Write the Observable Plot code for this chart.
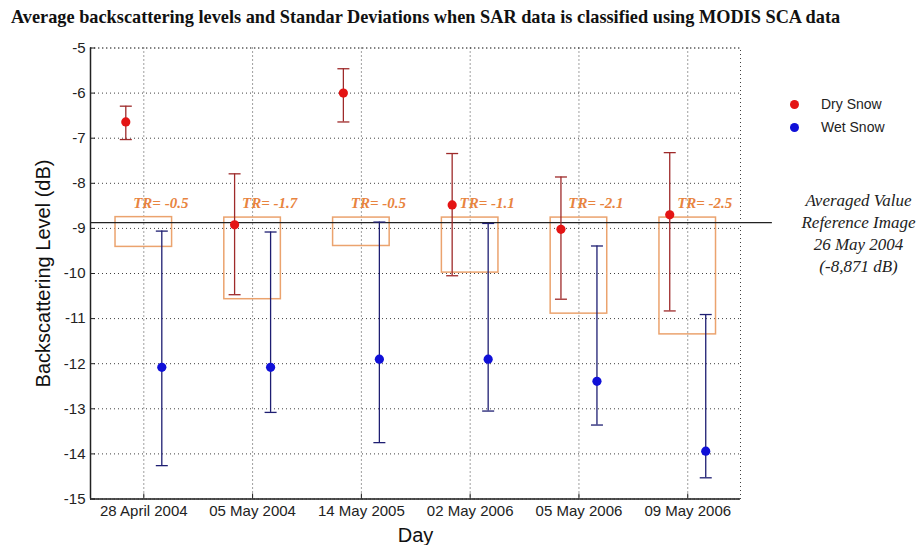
<!DOCTYPE html>
<html>
<head>
<meta charset="utf-8">
<script src="https://cdn.jsdelivr.net/npm/d3@7"></script>
<script src="https://cdn.jsdelivr.net/npm/@observablehq/plot@0.6"></script>
<style>
  html, body { margin: 0; padding: 0; background: #fff; }
  #wrap { position: relative; width: 924px; height: 545px; overflow: hidden; }
  #title { height: 32px; padding-left: 11px; box-sizing: border-box; font-family: "Liberation Serif", "Times New Roman", serif; font-weight: bold; font-size: 18.3px; line-height: 34px; color: #111; white-space: nowrap; }
  .leg { position: absolute; left: 790px; font-family: "Liberation Sans", Arial, sans-serif; font-size: 14px; color: #222; display: flex; align-items: center; }
  .leg span.dot { display: inline-block; width: 9px; height: 9px; border-radius: 50%; margin-right: 22px; }
</style>
</head>
<body>
<div id="wrap">
  <div id="title">Average backscattering levels and Standar Deviations when SAR data is classified using MODIS SCA data</div>
  <div id="chart"></div>
  <div class="leg" style="top:96px"><span class="dot" style="background:#e41414"></span>Dry Snow</div>
  <div class="leg" style="top:119px"><span class="dot" style="background:#1010d8"></span>Wet Snow</div>
</div>
<script>
// ---- data ----
const days = ["28 April 2004", "05 May 2004", "14 May 2005", "02 May 2006", "05 May 2006", "09 May 2006"];
const dryMean  = [-6.64, -8.92, -6.00, -8.48, -9.02, -8.70];
const dryUpper = [-6.29, -7.79, -5.46, -7.34, -7.86, -7.32];
const dryLower = [-7.03, -10.47, -6.64, -10.05, -10.57, -10.83];
const wetMean  = [-12.08, -12.08, -11.90, -11.90, -12.39, -13.94];
const wetUpper = [-9.06, -9.08, -8.86, -8.89, -9.39, -10.91];
const wetLower = [-14.26, -13.08, -13.75, -13.05, -13.36, -14.53];
const trLabels = ["TR= -0.5", "TR= -1.7", "TR= -0.5", "TR= -1.1", "TR= -2.1", "TR= -2.5"];
const trBoxTop    = [-8.75, -8.76, -8.76, -8.76, -8.76, -8.76];
const trBoxBottom = [-9.41, -10.57, -9.39, -9.98, -10.89, -11.35];
const trLabelY = -8.43;
const referenceValue = -8.871;
const referenceText = "Averaged Value\nReference Image\n26 May 2004\n(-8,871 dB)";
const yTicks = [-5, -6, -7, -8, -9, -10, -11, -12, -13, -14, -15];

// ---- derived tables ----
const xPos = days.map((d, i) => i + 1);
const dry = days.map((d, i) => ({x: xPos[i], mean: dryMean[i], hi: dryUpper[i], lo: dryLower[i]}));
const wet = days.map((d, i) => ({x: xPos[i], mean: wetMean[i], hi: wetUpper[i], lo: wetLower[i]}));
const boxes = days.map((d, i) => ({x: xPos[i], top: trBoxTop[i], bottom: trBoxBottom[i], label: trLabels[i]}));

const xDomain = [0.51, 6.485];
const yDomain = [-15, -5];
const boxHalf = 0.26;
const refLineEnd = 6.778;
const OFF = 18;

const capSymbol = {
  draw(context, size) {
    const w = Math.sqrt(size / Math.PI);
    context.moveTo(-w, 0);
    context.lineTo(w, 0);
  }
};

const dryBar = "#9e2a2a", wetBar = "#1e1e72", dryDot = "#e41414", wetDot = "#1010d8";
const boxColor = "#eba36e", trColor = "#e8843f";
const gridStyle = {stroke: "#000", strokeOpacity: 0.75, strokeDasharray: "1,3", strokeWidth: 1};

const chart = Plot.plot({
  width: 924,
  height: 513,
  marginLeft: 90,
  marginRight: 184,
  marginTop: 15.5,
  marginBottom: 46.5,
  style: {fontFamily: "'Liberation Sans', Arial, sans-serif", fontSize: "15px", color: "#222", background: "#fff"},
  x: {domain: xDomain, axis: null},
  y: {domain: yDomain, axis: null},
  marks: [
    Plot.frame({...gridStyle}),
    Plot.ruleY(yTicks, {y: d => d, ...gridStyle}),
    Plot.ruleX(xPos, {x: d => d, ...gridStyle}),
    Plot.axisX(xPos, {anchor: "bottom", label: null, tickFormat: d => days[d - 1], tickSize: -5, tickPadding: 11, fontSize: 15, stroke: "#222"}),
    Plot.axisY(yTicks, {anchor: "left", label: null, tickFormat: d => String(d), tickSize: -5, tickPadding: 10, fontSize: 15}),
    Plot.ruleY([yDomain[0]], {stroke: "#222", strokeWidth: 1.5}),
    Plot.ruleX([xDomain[0]], {stroke: "#222", strokeWidth: 1.5}),
    // TR boxes
    Plot.rect(boxes, {x1: d => d.x - boxHalf, x2: d => d.x + boxHalf, y1: "top", y2: "bottom", fill: "none", stroke: boxColor, strokeWidth: 1.5}),
    // reference line
    Plot.ruleY([referenceValue], {x1: xDomain[0], x2: refLineEnd, stroke: "#222", strokeWidth: 1.3}),
    // error bars
    Plot.ruleX(dry, {x: "x", y1: "lo", y2: "hi", dx: -OFF, stroke: dryBar, strokeWidth: 1.3}),
    Plot.dot(dry, {x: "x", y: "hi", dx: -OFF, symbol: capSymbol, r: 6, stroke: dryBar, strokeWidth: 1.3, fill: "none"}),
    Plot.dot(dry, {x: "x", y: "lo", dx: -OFF, symbol: capSymbol, r: 6, stroke: dryBar, strokeWidth: 1.3, fill: "none"}),
    Plot.ruleX(wet, {x: "x", y1: "lo", y2: "hi", dx: OFF, stroke: wetBar, strokeWidth: 1.3}),
    Plot.dot(wet, {x: "x", y: "hi", dx: OFF, symbol: capSymbol, r: 6, stroke: wetBar, strokeWidth: 1.3, fill: "none"}),
    Plot.dot(wet, {x: "x", y: "lo", dx: OFF, symbol: capSymbol, r: 6, stroke: wetBar, strokeWidth: 1.3, fill: "none"}),
    // means
    Plot.dot(dry, {x: "x", y: "mean", dx: -OFF, r: 4.6, fill: dryDot, stroke: "none"}),
    Plot.dot(wet, {x: "x", y: "mean", dx: OFF, r: 4.6, fill: wetDot, stroke: "none"}),
    // TR labels
    Plot.text(boxes, {x: "x", y: () => trLabelY, text: "label", dx: 17, fill: trColor, fontSize: 15, fontWeight: "bold", fontStyle: "italic", fontFamily: "'Liberation Serif', 'Times New Roman', serif"}),
    // reference annotation
    Plot.text([referenceText], {y: () => referenceValue, text: d => d, frameAnchor: "right", dx: 118, dy: 9.5, textAnchor: "middle", lineAnchor: "middle", lineHeight: 1.3, fontSize: 17, fontStyle: "italic", fontFamily: "'Liberation Serif', 'Times New Roman', serif", fill: "#222"}),
    // axis titles
    Plot.text(["Day"], {text: d => d, frameAnchor: "bottom", dy: 43, fontSize: 20, fill: "#111"}),
    Plot.text(["Backscattering Level (dB)"], {text: d => d, frameAnchor: "left", textAnchor: "middle", dx: -47, rotate: -90, fontSize: 20, fill: "#111"})
  ]
});
document.getElementById("chart").appendChild(chart);
</script>
</body>
</html>
